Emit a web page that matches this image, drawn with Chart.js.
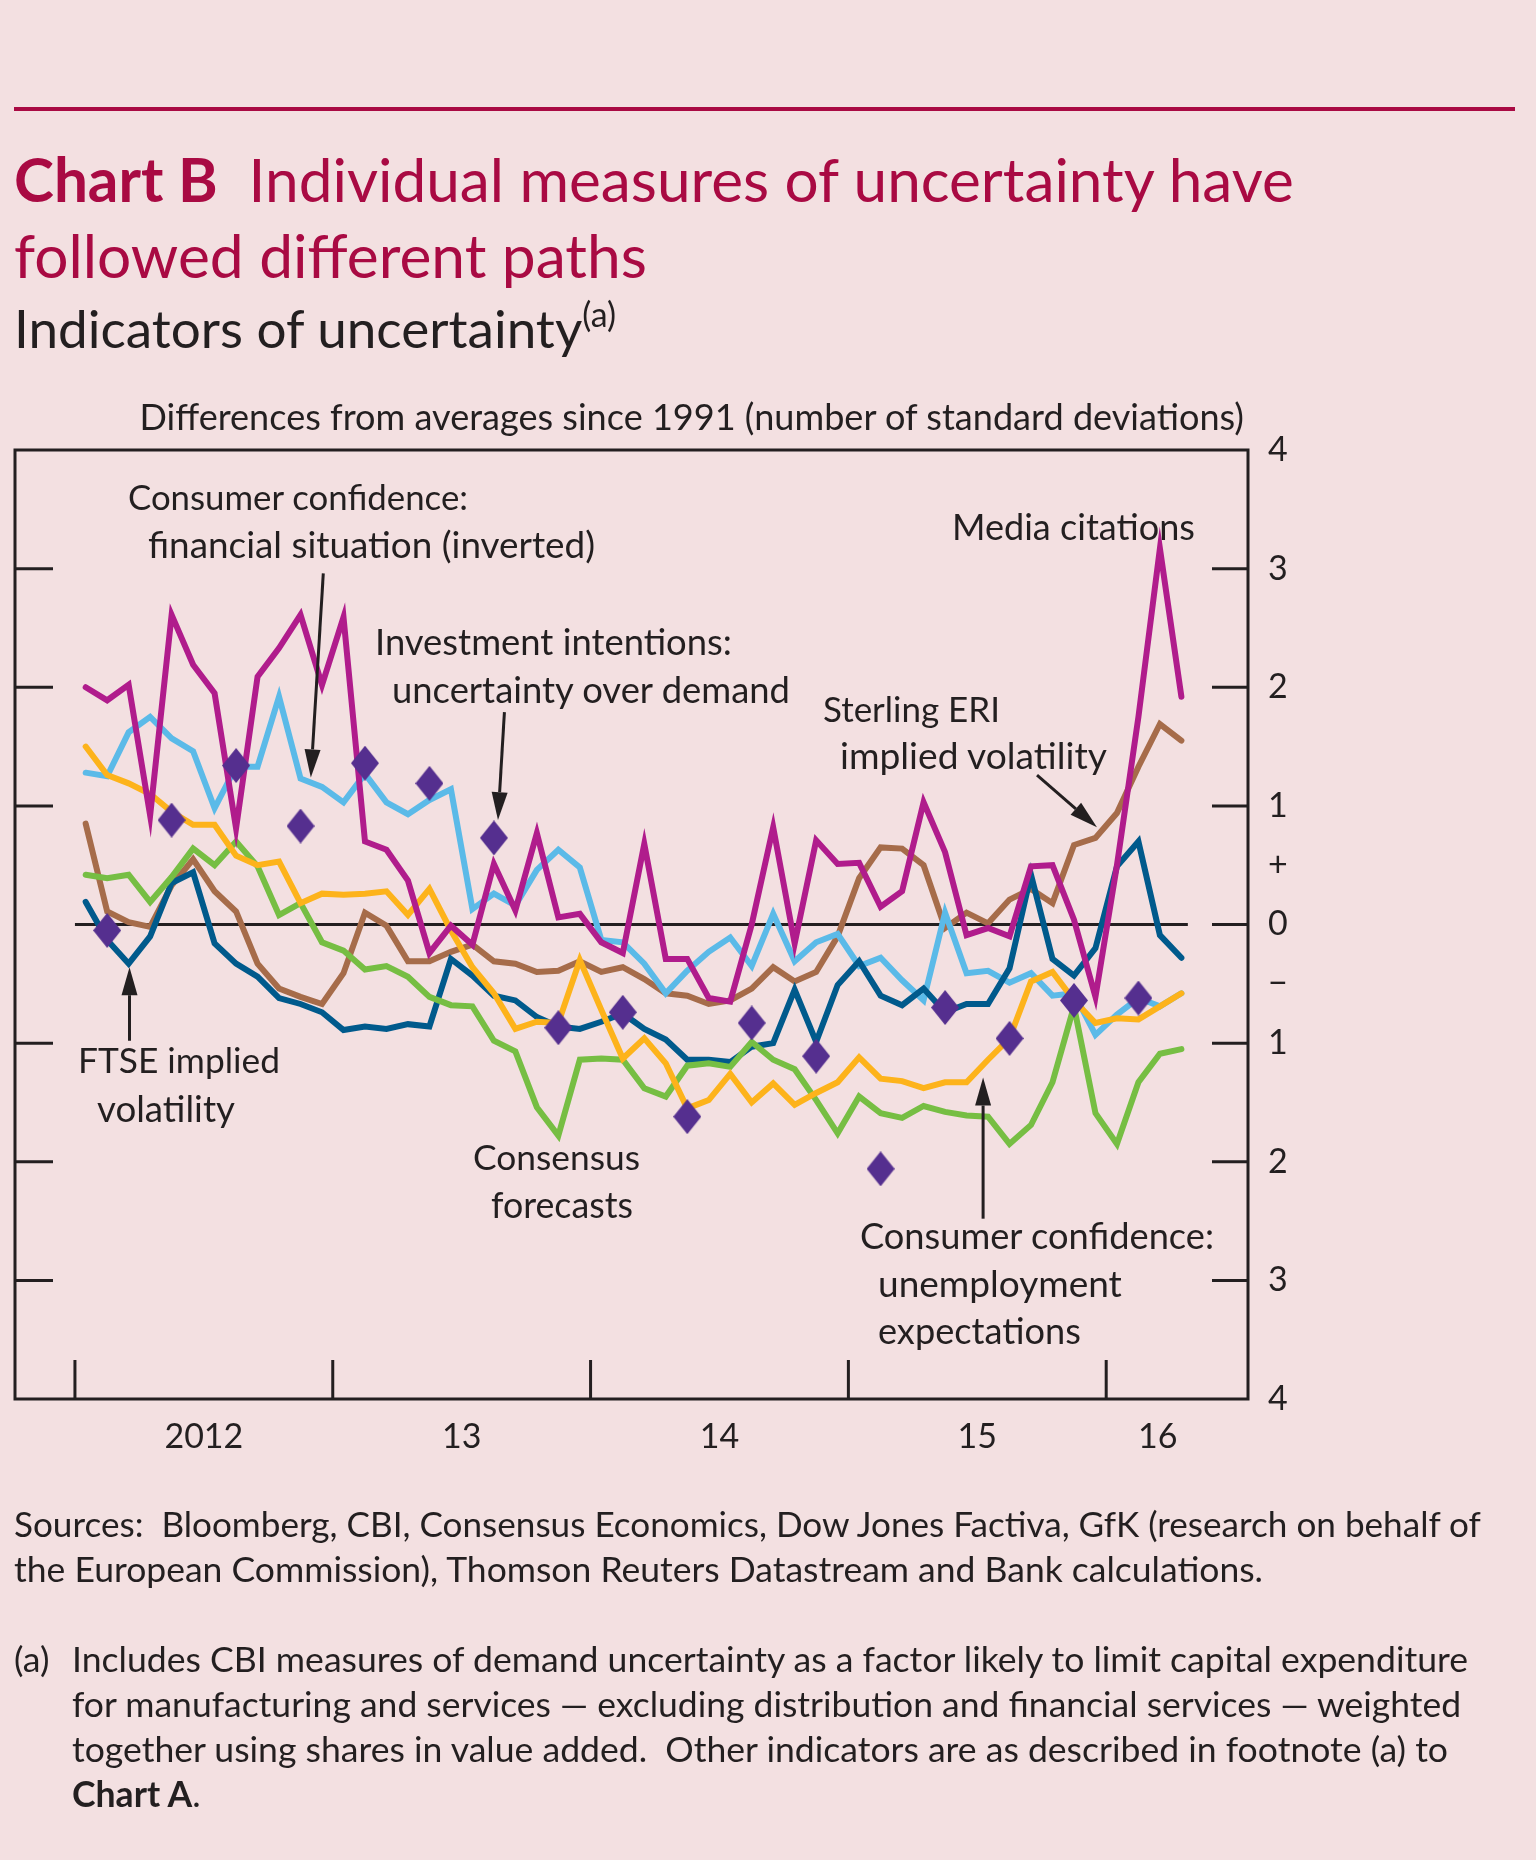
<!DOCTYPE html>
<html>
<head>
<meta charset="utf-8">
<script src="https://cdn.jsdelivr.net/npm/chart.js@4.4.1/dist/chart.umd.min.js"></script>
<style>
  html, body { margin: 0; padding: 0; background: #F3E0E1; }
  body { width: 1536px; height: 1860px; position: relative; overflow: hidden;
         font-family: Lato, "Open Sans", sans-serif; color: #231F20; }
  #c { position: absolute; left: 0; top: 0; width: 1536px; height: 1860px; }
  .txt { position: absolute; white-space: pre; line-height: 1.2; }
  .probe { display: inline-block; width: 0; height: 0; }
  .title { color: #A90A43; }
  .rule { position: absolute; left: 14px; top: 107px; width: 1501px; height: 4px; background: #A90A43; }
</style>
</head>
<body>
<div class="rule"></div>
<canvas id="c" width="1536" height="1860"></canvas>
<script>
// monthly series, Jan 2012 .. Apr 2016 (52 months)
const months = [];
for (let y = 2012; y <= 2016; y++) {
  for (let m = 1; m <= 12; m++) {
    if (y === 2016 && m > 4) break;
    months.push(`${y}-${String(m).padStart(2, "0")}`);
  }
}

const mediaCitations = [2.00, 1.89, 2.02, 0.92, 2.61, 2.19, 1.95, 0.81, 2.09, 2.33, 2.61, 2.02, 2.59, 0.70, 0.63, 0.37, -0.24, -0.01, -0.17, 0.51, 0.12, 0.77, 0.06, 0.09, -0.15, -0.24, 0.68, -0.29, -0.29, -0.62, -0.65, 0.00, 0.82, -0.16, 0.71, 0.51, 0.52, 0.15, 0.28, 1.03, 0.61, -0.09, -0.03, -0.10, 0.49, 0.50, 0.04, -0.61, 0.50, 1.75, 3.17, 1.92];
const financialSituation = [1.28, 1.25, 1.62, 1.75, 1.57, 1.46, 0.98, 1.33, 1.33, 1.92, 1.23, 1.16, 1.03, 1.27, 1.03, 0.93, 1.05, 1.14, 0.13, 0.26, 0.16, 0.46, 0.63, 0.48, -0.13, -0.15, -0.33, -0.58, -0.39, -0.23, -0.11, -0.35, 0.09, -0.31, -0.15, -0.08, -0.35, -0.28, -0.47, -0.64, 0.10, -0.41, -0.39, -0.49, -0.41, -0.60, -0.58, -0.93, -0.76, -0.62, -0.69, -0.58];
const sterlingEri = [0.85, 0.11, 0.02, -0.02, 0.33, 0.55, 0.28, 0.11, -0.33, -0.54, -0.61, -0.67, -0.41, 0.10, -0.01, -0.31, -0.31, -0.23, -0.17, -0.31, -0.33, -0.40, -0.39, -0.31, -0.40, -0.36, -0.46, -0.58, -0.60, -0.67, -0.64, -0.54, -0.36, -0.48, -0.40, -0.10, 0.39, 0.65, 0.64, 0.50, -0.03, 0.10, 0.01, 0.21, 0.30, 0.18, 0.67, 0.73, 0.94, 1.33, 1.69, 1.55];
const ftse = [0.19, -0.13, -0.33, -0.10, 0.35, 0.44, -0.16, -0.33, -0.44, -0.62, -0.67, -0.74, -0.89, -0.86, -0.88, -0.84, -0.86, -0.29, -0.43, -0.60, -0.64, -0.78, -0.86, -0.88, -0.82, -0.75, -0.88, -0.97, -1.14, -1.14, -1.16, -1.03, -1.00, -0.55, -0.99, -0.51, -0.31, -0.60, -0.68, -0.54, -0.74, -0.67, -0.67, -0.37, 0.42, -0.29, -0.43, -0.20, 0.49, 0.70, -0.09, -0.28];
const consensus = [0.42, 0.39, 0.42, 0.19, 0.40, 0.64, 0.50, 0.70, 0.49, 0.08, 0.18, -0.15, -0.22, -0.38, -0.35, -0.44, -0.61, -0.68, -0.69, -0.98, -1.07, -1.54, -1.78, -1.14, -1.13, -1.14, -1.38, -1.45, -1.19, -1.17, -1.20, -0.99, -1.14, -1.22, -1.48, -1.76, -1.45, -1.59, -1.63, -1.53, -1.58, -1.61, -1.62, -1.85, -1.69, -1.33, -0.69, -1.59, -1.85, -1.33, -1.09, -1.05];
const unemployment = [1.50, 1.26, 1.19, 1.10, 0.95, 0.84, 0.84, 0.58, 0.50, 0.53, 0.18, 0.26, 0.25, 0.26, 0.28, 0.08, 0.30, -0.05, -0.36, -0.58, -0.88, -0.82, -0.83, -0.30, -0.72, -1.13, -0.96, -1.17, -1.55, -1.48, -1.26, -1.50, -1.34, -1.52, -1.42, -1.33, -1.12, -1.30, -1.32, -1.38, -1.33, -1.33, -1.14, -0.96, -0.48, -0.40, -0.64, -0.83, -0.79, -0.80, -0.69, -0.58];

// quarterly series, plotted at the middle month of each quarter
const quarterMonth = [1, 4, 7, 10, 13, 16, 19, 22, 25, 28, 31, 34, 37, 40, 43, 46, 49];
const investment = [-0.05, 0.88, 1.34, 0.83, 1.36, 1.19, 0.73, -0.87, -0.74, -1.62, -0.83, -1.11, -2.06, -0.70, -0.96, -0.64, -0.62];

// axis
const yearStarts = [0, 12, 24, 36, 48];
const yearLabels = ["2012", "13", "14", "15", "16"];
const yearLabelAt = [6, 18, 30, 42, 50.4];

const INK = "#231F20";
const FONT = 'Lato, "Open Sans", sans-serif';

const monthly = vals => vals.map((v, i) => ({ x: i + 0.5, y: v }));

function diamond(w, h, color) {
  const c = document.createElement("canvas");
  c.width = w; c.height = h;
  const g = c.getContext("2d");
  g.fillStyle = color;
  g.beginPath();
  g.moveTo(w / 2, 0); g.lineTo(w, h / 2); g.lineTo(w / 2, h); g.lineTo(0, h / 2);
  g.closePath(); g.fill();
  return c;
}

function lineSet(label, vals, color) {
  return { label, data: monthly(vals), borderColor: color, borderWidth: 6,
           pointRadius: 0, borderCapStyle: "round", tension: 0 };
}

// arrows in data units: [x0, y0, x1 (tip), y1 (tip)]
const arrows = [
  [11.56, 2.96, 10.98, 1.24],
  [19.99, 1.79, 19.69, 0.88],
  [44.78, 1.26, 47.57, 0.82],
  [2.54, -0.98, 2.54, -0.36],
  [42.27, -2.48, 42.27, -1.29],
];

const frame = {
  id: "frame",
  beforeDatasetsDraw(chart) {
    const { ctx, scales: { x, y } } = chart;
    ctx.save();
    ctx.strokeStyle = INK; ctx.lineWidth = 3;
    ctx.beginPath();
    ctx.moveTo(x.getPixelForValue(0), y.getPixelForValue(0));
    ctx.lineTo(x.getPixelForValue(51.8), y.getPixelForValue(0));
    ctx.stroke();
    ctx.restore();
  },
  afterDraw(chart) {
    const { ctx, chartArea: a, scales: { x, y } } = chart;
    ctx.save();
    ctx.strokeStyle = INK; ctx.fillStyle = INK; ctx.lineWidth = 3;
    ctx.strokeRect(a.left, a.top, a.right - a.left, a.bottom - a.top);
    ctx.beginPath();
    [3, 2, 1, -1, -2, -3].forEach(v => {
      const py = y.getPixelForValue(v);
      ctx.moveTo(a.left, py); ctx.lineTo(a.left + 38, py);
    });
    [3, 2, 1, 0, -1, -2, -3].forEach(v => {
      const py = y.getPixelForValue(v);
      ctx.moveTo(a.right - 36, py); ctx.lineTo(a.right, py);
    });
    yearStarts.forEach(m => {
      const px = x.getPixelForValue(m);
      ctx.moveTo(px, a.bottom); ctx.lineTo(px, a.bottom - 39);
    });
    ctx.stroke();

    arrows.forEach(([x0, y0, x1, y1]) => {
      const ax = x.getPixelForValue(x0), ay = y.getPixelForValue(y0);
      const bx = x.getPixelForValue(x1), by = y.getPixelForValue(y1);
      const ang = Math.atan2(by - ay, bx - ax);
      const len = 28, hw = 8;
      const cx = bx - Math.cos(ang) * len, cy = by - Math.sin(ang) * len;
      ctx.beginPath();
      ctx.moveTo(ax, ay); ctx.lineTo(cx, cy);
      ctx.stroke();
      ctx.beginPath();
      ctx.moveTo(bx, by);
      ctx.lineTo(cx + Math.sin(ang) * hw, cy - Math.cos(ang) * hw);
      ctx.lineTo(cx - Math.sin(ang) * hw, cy + Math.cos(ang) * hw);
      ctx.closePath(); ctx.fill();
    });
    ctx.restore();
  }
};

new Chart(document.getElementById("c"), {
  type: "line",
  data: {
    datasets: [
      { label: "Investment intentions: uncertainty over demand",
        data: investment.map((v, i) => ({ x: quarterMonth[i] + 0.5, y: v })),
        showLine: false, pointStyle: diamond(28, 35, "#552F8F"), pointRadius: 14 },
      lineSet("Media citations", mediaCitations, "#B01C8C"),
      lineSet("Consumer confidence: unemployment expectations", unemployment, "#FDB31B"),
      lineSet("Consensus forecasts", consensus, "#76BE43"),
      lineSet("FTSE implied volatility", ftse, "#005A8C"),
      lineSet("Consumer confidence: financial situation (inverted)", financialSituation, "#5BBAE8"),
      lineSet("Sterling ERI implied volatility", sterlingEri, "#A66C4A"),
    ]
  },
  options: {
    responsive: false,
    animation: false,
    layout: { padding: { left: 13, top: 450, right: 208, bottom: 381 } },
    plugins: { legend: { display: false }, tooltip: { enabled: false } },
    scales: {
      x: {
        type: "linear", min: -2.79, max: 54.6,
        grid: { display: false, drawTicks: false }, border: { display: false },
        afterBuildTicks: s => { s.ticks = yearLabelAt.map(v => ({ value: v })); },
        afterFit: s => { s.height = 80; },
        ticks: { autoSkip: false, maxRotation: 0, padding: 18, color: INK,
                 font: { family: FONT, size: 34 },
                 callback: (v, i) => yearLabels[i] }
      },
      y: {
        position: "right", min: -4, max: 4,
        grid: { display: false, drawTicks: false }, border: { display: false },
        afterFit: s => { s.width = 80; },
        ticks: { stepSize: 0.5, autoSkip: false, crossAlign: "center", padding: 20, color: INK,
                 font: { family: FONT, size: 34 },
                 callback: v => {
                   if (v === 0.5) return "+";
                   if (v === -0.5) return "\u2212";
                   return Number.isInteger(v) ? String(Math.abs(v)) : "";
                 } }
      }
    }
  },
  plugins: [frame]
});

// text set on its baseline; fitted to a width, or at a given size
function place(html, x, baseline, width, cls, alignRight, size) {
  const d = document.createElement("div");
  d.className = "txt " + (cls || "");
  d.innerHTML = html + '<span class="probe"></span>';
  d.style.left = "0px"; d.style.top = "0px"; d.style.fontSize = "40px";
  document.body.appendChild(d);
  if (!size) size = 40 * width / d.getBoundingClientRect().width;
  d.style.fontSize = size.toFixed(2) + "px";
  const w2 = d.getBoundingClientRect().width;
  d.style.left = (alignRight ? x - w2 : x) + "px";
  const b = d.querySelector(".probe").getBoundingClientRect().bottom;
  d.style.top = (baseline - b) + "px";
  return size;
}

place("<b>Chart B</b>  Individual measures of uncertainty have", 14, 202, 1280, "title");
place("followed different paths", 14, 278, 633, "title");
place('Indicators of uncertainty<span style="font-size:0.64em;vertical-align:0.62em">(a)</span>', 14, 348, 602);
place("Differences from averages since 1991 (number of standard deviations)", 1244, 430, 1105, "", true);

place("Consumer confidence:", 128, 510, 340);
place("financial situation (inverted)", 148, 558, 447);
place("Investment intentions:", 375, 655, 357);
place("uncertainty over demand", 392, 703, 398);
place("Sterling ERI", 823, 722, 177);
place("implied volatility", 840, 769, 267);
place("Media citations", 952, 540, 243);
place("FTSE implied", 78, 1073, 202);
place("volatility", 97, 1122, 138);
place("Consensus", 473, 1170, 167);
place("forecasts", 491, 1218, 142);
place("Consumer confidence:", 860, 1249, 354);
place("unemployment", 878, 1297, 244);
place("expectations", 878, 1344, 203);

place("Sources:  Bloomberg, CBI, Consensus Economics, Dow Jones Factiva, GfK (research on behalf of", 14, 1537, 1467);
place("the European Commission), Thomson Reuters Datastream and Bank calculations.", 14, 1582, 1249);
const fs = place("Includes CBI measures of demand uncertainty as a factor likely to limit capital expenditure", 72, 1672, 1397);
place("(a)", 14, 1672, 0, "", false, fs);
place("for manufacturing and services \u2014 excluding distribution and financial services \u2014 weighted", 72, 1717, 1389);
place("together using shares in value added.  Other indicators are as described in footnote (a) to", 72, 1762, 1376);
place("<b>Chart A</b>.", 72, 1807, 0, "", false, fs);
</script>
</body>
</html>
